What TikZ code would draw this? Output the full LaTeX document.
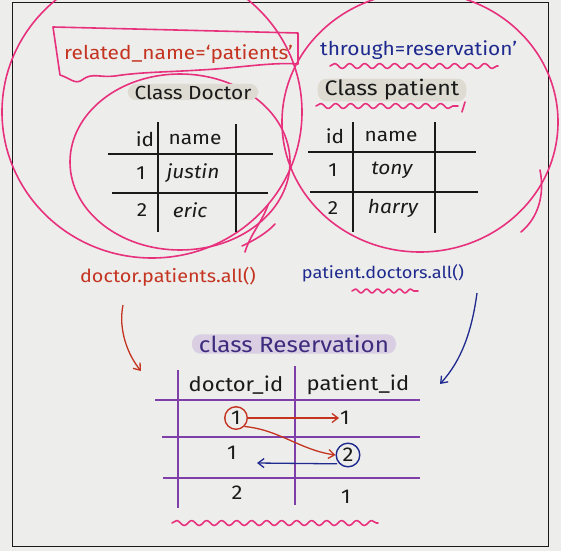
\documentclass[tikz,border=0pt]{standalone}
\usepackage{fontspec}
\setmainfont[FakeStretch=1.1]{Fira Sans}
\usetikzlibrary{arrows.meta,decorations.pathmorphing,shapes.geometric}
\definecolor{bg}{HTML}{EDEDEC}
\definecolor{pinkc}{HTML}{E8317C}
\definecolor{redc}{HTML}{C43420}
\definecolor{navyc}{HTML}{1F2A8E}
\definecolor{purl}{HTML}{7E3FA8}
\definecolor{purt}{HTML}{3D2C7E}
\definecolor{pillg}{HTML}{DEDBD2}
\definecolor{pillp}{HTML}{D9CEE2}
\definecolor{inkc}{HTML}{1A1A1A}
\tikzset{
  pinkline/.style={draw=pinkc,line width=1.6pt,line cap=round,line join=round},
  wavy/.style={pinkline,decorate,decoration={snake,amplitude=2.5pt,segment length=15pt}},
  tline/.style={draw=inkc,line width=1.4pt},
  rline/.style={draw=purl,line width=1.4pt},
  cell/.style={inner sep=1pt,font=\fontsize{19}{19}\selectfont,text=inkc},
  rcell/.style={inner sep=1pt,font=\fontsize{20}{20}\selectfont,text=inkc},
  pill/.style={rounded corners=9pt,inner xsep=7pt,inner ysep=1pt},
  lbl/.style={inner sep=1pt},
  arr/.style={line width=1.3pt,-{Straight Barb[length=6pt,width=9pt]}},
}
\begin{document}
\begin{tikzpicture}[x=1pt,y=-1pt]
\useasboundingbox (0,0) rectangle (561,551);
\fill[bg] (0,0) rectangle (561,551);
\clip (0,0) rectangle (561,551);
% frame
\draw[inkc,line width=0.8pt] (12,2) rectangle (548,546);

% big pink circles
\draw[pinkline] (152,112) ellipse [x radius=150, y radius=146];
\draw[pinkline] (420,122) ellipse [x radius=138, y radius=130];
\draw[pinkline] (180,162) ellipse [x radius=110, y radius=88];
\draw[pinkline] (245,252) .. controls (250,235) and (262,222) .. (268,205);
\draw[pinkline] (242,246) .. controls (255,240) and (268,232) .. (275,224);
\draw[pinkline] (540,170) .. controls (545,195) and (538,218) .. (521,232);

% related_name box
\draw[pinkline] (298,64) -- (298,33) -- (53,27) -- (60,75)
  .. controls (70,78) and (75,85) .. (82,80) .. controls (92,72) and (100,78) .. (115,76)
  .. controls (140,72) and (170,72) .. (200,70) .. controls (240,68) and (270,62) .. (298,64);
\node[lbl,text=redc,anchor=west,font=\fontsize{19}{19}\selectfont] (relname) at (63,54) {related\_name=`patients'};

% through
\node[lbl,text=navyc,anchor=west,font=\fontsize{19}{19}\selectfont] (through) at (319,50) {through=reservation'};
\draw[wavy] (330,66) -- (498,66);

% class pills
\node[pill,fill=pillg,text=inkc,font=\fontsize{19}{19}\selectfont] (cdoc) at (193,92) {Class Doctor};
\node[pill,fill=pillg,text=inkc,font=\fontsize{21}{21}\selectfont] (cpat) at (392,90) {Class patient};
\draw[wavy] (316,106) -- (458,106);
\draw[pinkline] (465,102) -- (462,112);

% doctor table
\draw[tline] (158,122) -- (158,232);
\draw[tline] (236,124) -- (236,232);
\draw[tline] (108,154) -- (273,154);
\draw[tline] (112,193) -- (268,193);
\node[cell] (dh1) at (145,139) {id};
\node[cell] (dh2) at (195,139) {name};
\node[cell] (d11) at (141,173) {1};
\node[cell] (d12) at (193,173) {\itshape justin};
\node[cell] (d21) at (142,210) {2};
\node[cell] (d22) at (190,210) {\itshape eric};

% patient table
\draw[tline] (353,122) -- (353,232);
\draw[tline] (435,122) -- (435,233);
\draw[tline] (308,152) -- (476,152);
\draw[tline] (310,192) -- (478,192);
\node[cell] (ph1) at (335,136) {id};
\node[cell] (ph2) at (391,136) {name};
\node[cell] (p11) at (333,170) {1};
\node[cell] (p12) at (392,170) {\itshape tony};
\node[cell] (p21) at (333,208) {2};
\node[cell] (p22) at (393,208) {\itshape harry};

% queries
\node[lbl,text=redc,font=\fontsize{18}{18}\selectfont] (dq) at (168,277) {doctor.patients.all()};
\node[lbl,text=navyc,font=\fontsize{16.5}{16.5}\selectfont] (pq) at (383,273) {patient.doctors.all()};
\draw[pinkline,decorate,decoration={snake,amplitude=2pt,segment length=11pt}] (352,291) -- (418,291);

% reservation
\node[pill,fill=pillp,text=purt,font=\fontsize{22}{22}\selectfont] (cres) at (294,344) {class Reservation};
\draw[rline] (178,370) -- (178,508);
\draw[rline] (295,366) -- (295,505);
\draw[rline] (155,400) -- (420,400);
\draw[rline] (162,437) -- (420,437);
\draw[rline] (163,478) -- (420,478);
\node[rcell] (rh1) at (236,385) {doctor\_id};
\node[rcell] (rh2) at (358,385) {patient\_id};
\node[rcell,draw=redc,line width=1.4pt,circle,inner sep=2.2pt] (r11) at (236,418) {1};
\node[rcell] (r12) at (345,418) {1};
\node[rcell] (r21) at (232,453) {1};
\node[rcell,draw=navyc,line width=1.4pt,circle,inner sep=2.2pt] (r22) at (348,455) {2};
\node[rcell] (r31) at (237,493) {2};
\node[rcell] (r32) at (346,497) {1};
\draw[wavy] (172,523) -- (378,523);

% arrows
\coordinate (dqs) at (123,305);
\coordinate (dqe) at (141,371);
\draw[arr,redc] (dqs) .. controls (118,330) and (128,355) .. (dqe);
\coordinate (pqs) at (477,293);
\coordinate (pqe) at (440,384);
\draw[arr,navyc] (pqs) .. controls (472,330) and (462,360) .. (pqe);
\draw[arr,redc] (r11.east) -- (r12.west);
\draw[arr,redc] (r11.south east) .. controls (280,430) and (300,450) .. (r22.west);
\coordinate (bl) at (257,463);
\draw[arr,navyc] (r22.south west) ++(-2,0) coordinate (bs) (bs) -- (bl);
\end{tikzpicture}
\end{document}
